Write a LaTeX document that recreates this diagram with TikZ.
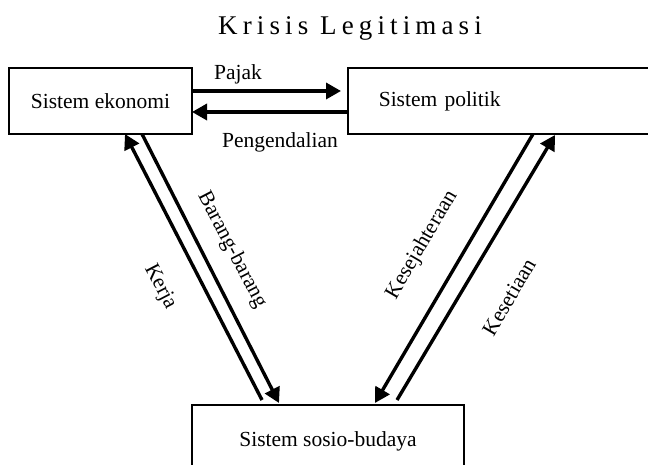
\documentclass[tikz,border=0pt]{standalone}
\usepackage{fontspec}
\setmainfont{Liberation Serif}
\usetikzlibrary{arrows.meta}
\tikzset{
  box/.style={draw, line width=1.6pt, inner sep=0pt, font=\fontsize{21.5}{25}\selectfont},
  arr/.style={line width=3.4pt, -{Triangle[length=15pt,width=16pt]}},
  lbl/.style={font=\fontsize{21.5}{25}\selectfont, inner sep=0pt},
}
\begin{document}
\begin{tikzpicture}[x=1pt,y=1pt]
\clip (0,0) rectangle (648,465);
\fill[white] (0,0) rectangle (648,465);
% boxes
\node[box, minimum width=183pt, minimum height=66pt] (eko) at (100.5,364) {Sistem ekonomi};
\node[box, anchor=west, minimum height=66pt, text width=241pt, inner xsep=31pt, align=left] (pol) at (347,364) {Sistem politik};
\node[box, minimum width=272pt, minimum height=72pt] (sos) at (328,24) {Sistem sosio-budaya};
% title
\node[lbl, anchor=base, font=\fontsize{27}{30}\selectfont\addfontfeature{LetterSpace=19}] (title) at (350,430) {Krisis Legitimasi};
% connector end points
\coordinate (pajA) at (192,374);
\coordinate (pajB) at (341,374);
\coordinate (penA) at (347,353);
\coordinate (penB) at (192,353);
\coordinate (kerA) at (262,65);
\coordinate (kerB) at (125,331);
\coordinate (barA) at (142,331);
\coordinate (barB) at (279,62);
\coordinate (kesA) at (533,331);
\coordinate (kesB) at (375,62);
\coordinate (setA) at (397,65);
\coordinate (setB) at (555,330);
% connectors
\draw[arr] (pajA) -- (pajB);
\draw[arr] (penA) -- (penB);
\draw[arr] (kerA) -- (kerB);
\draw[arr] (barA) -- (barB);
\draw[arr] (kesA) -- (kesB);
\draw[arr] (setA) -- (setB);
% labels
\node[lbl, anchor=base] (lpaj) at (238,385) {Pajak};
\node[lbl, anchor=base] (lpen) at (280,317) {Pengendalian};
\node[lbl, rotate=-62.5] (lbar) at (232,215) {Barang-barang};
\node[lbl, rotate=-62.5] (lker) at (160,178) {Kerja};
\node[lbl, rotate=59.7] (lkes) at (422,220) {Kesejahteraan};
\node[lbl, rotate=59.7] (lset) at (509,168) {Kesetiaan};
\end{tikzpicture}
\end{document}
